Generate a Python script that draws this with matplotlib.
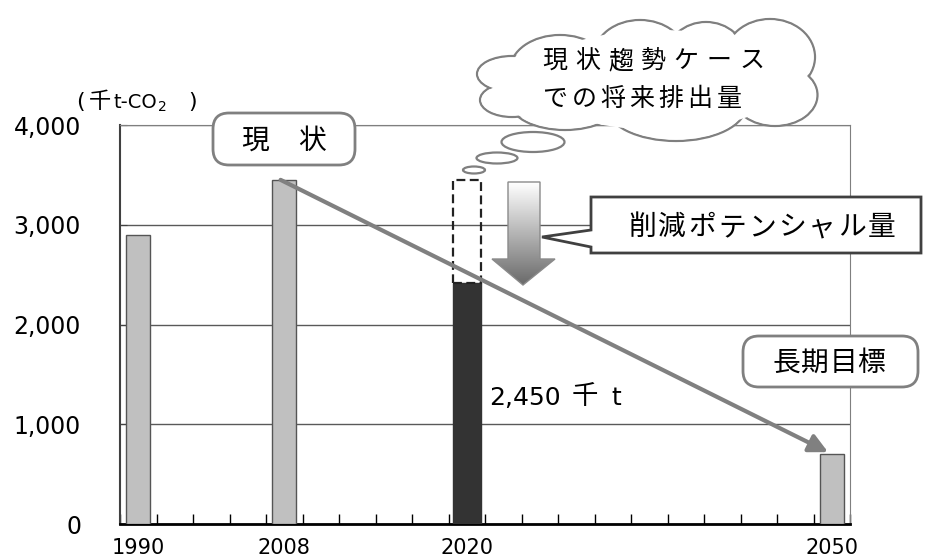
import matplotlib
matplotlib.use('Agg')
import matplotlib.pyplot as plt
import numpy as np
from matplotlib.patches import Rectangle, FancyBboxPatch, Ellipse, Polygon
from matplotlib.colors import LinearSegmentedColormap

plt.rcParams['font.family'] = ['Noto Sans CJK JP', 'DejaVu Sans']

# categories along the x axis (one slot per column, most are empty)
categories = ['1990', '', '', '', '2008', '', '', '', '', '2020',
              '', '', '', '', '', '', '', '', '', '2050']
bar_years = ['1990', '2008', '2020', '2050']
bar_values = [2900, 3450, 2420, 700]
bau_2020 = 3450          # 現状趨勢ケース (dashed box)
target_value = '2,450'
y_ticks = [0, 1000, 2000, 3000, 4000]


def spaced_text(ax, x0, y, s, step, **kw):
    """Draw each character at a fixed step (letter spaced text)."""
    for i, ch in enumerate(s):
        if ch.strip():
            ax.text(x0 + i * step, y, ch, ha='center', va='center', **kw)


fig = plt.figure(figsize=(9.25, 5.6), dpi=100)
ax = fig.add_axes([120 / 925, 1 - 524 / 560, 730 / 925, 399 / 560])

xs = [categories.index(y) for y in bar_years]
colors = ['#c0c0c0', '#c0c0c0', '#333333', '#c0c0c0']
widths = [0.65, 0.65, 0.76, 0.65]
edges = ['#555555', '#555555', '#333333', '#555555']
ax.bar(xs, bar_values, width=widths, color=colors, edgecolor=edges,
       linewidth=1, zorder=3)

# dashed box: business-as-usual level for 2020
i20 = categories.index('2020')
v20 = bar_values[bar_years.index('2020')]
ax.add_patch(Rectangle((i20 - 0.38, v20), 0.76, bau_2020 - v20, fill=False,
                       ls=(0, (4, 2)), lw=1.6, ec='#222222', zorder=4))

# trend arrow from current level to long-term target
i08 = categories.index('2008')
i50 = categories.index('2050')
ax.annotate('', xy=(i50 - 0.1, bar_values[3] + 20),
            xytext=(i08 - 0.1, bar_values[1]),
            arrowprops=dict(arrowstyle='-|>', lw=3, color='#808080',
                            mutation_scale=28, shrinkA=0, shrinkB=0),
            zorder=6)

ax.set_xlim(-0.5, len(categories) - 0.5)
ax.set_ylim(0, 4000)
ax.set_yticks(y_ticks)
ax.set_yticklabels([f'{v:,}' for v in y_ticks], fontsize=17,
                   family='DejaVu Sans')
ax.yaxis.grid(True, color='#595959', lw=1)
ax.set_axisbelow(True)
ax.tick_params(axis='y', direction='in', length=5, pad=28, color='#404040')

ax.set_xticks(xs)
ax.set_xticklabels(bar_years, fontsize=15, family='DejaVu Sans')
ax.set_xticks(np.arange(-0.5, len(categories), 1), minor=True)
ax.tick_params(axis='x', which='major', length=0, pad=10)
ax.tick_params(axis='x', which='minor', direction='in', length=7,
               width=1, color='#000000')

ax.spines['left'].set_color('#404040')
ax.spines['left'].set_linewidth(1.5)
ax.spines['bottom'].set_color('#000000')
ax.spines['bottom'].set_linewidth(2)
ax.spines['top'].set_color('#7f7f7f')
ax.spines['right'].set_color('#7f7f7f')

# overlay in pixel coordinates for the annotations
ov = fig.add_axes([0, 0, 1, 1], zorder=5)
ov.patch.set_visible(False)
ov.axis('off')

# unit label (千t-CO2)
ov.text(80, 102, '(', ha='center', va='center', fontsize=16,
        family='DejaVu Sans')
ov.text(100, 101, '千', ha='center', va='center', fontsize=16)
ov.text(113, 102, 't-CO', ha='left', va='center', fontsize=14,
        family='DejaVu Sans')
ov.text(162, 107, '2', ha='center', va='center', fontsize=10,
        family='DejaVu Sans')
ov.text(193, 102, ')', ha='center', va='center', fontsize=16,
        family='DejaVu Sans')

# rounded label boxes
for (x0, y0, w, h) in [(213, 113, 142, 52), (743, 336, 175, 51)]:
    ov.add_patch(FancyBboxPatch((x0, y0), w, h,
                                boxstyle='round,pad=0,rounding_size=16',
                                fc='white', ec='#808080', lw=2, zorder=3))
spaced_text(ov, 255, 141, '現状', 57, fontsize=20, zorder=4)
spaced_text(ov, 786, 363, '長期目標', 28.5, fontsize=20, zorder=4)

# cloud made of overlapping ellipses
cloud = [(560, 70, 100, 70), (640, 56, 92, 72), (706, 58, 80, 72),
         (770, 57, 90, 76), (775, 95, 85, 62), (676, 106, 140, 70),
         (565, 102, 110, 56), (512, 100, 64, 34), (512, 74, 70, 36)]
for (cx, cy, w, h) in cloud:
    ov.add_patch(Ellipse((cx, cy), w, h, fc='white', ec='#7f7f7f',
                         lw=1.6, zorder=3))
for (cx, cy, w, h) in cloud:
    ov.add_patch(Ellipse((cx, cy), w - 3, h - 3, fc='white', ec='none',
                         zorder=3.1))
ov.add_patch(Ellipse((660, 80), 260, 100, fc='white', ec='none', zorder=3.2))
for (cx, cy, w, h) in [(533, 142, 63, 20), (497, 158, 41, 11),
                       (474, 170, 22, 7)]:
    ov.add_patch(Ellipse((cx, cy), w, h, fc='white', ec='#7f7f7f',
                         lw=1.6, zorder=3))
spaced_text(ov, 555, 61, '現状趨勢ケース', 32.8, fontsize=18, zorder=4)
spaced_text(ov, 555, 99, 'での将来排出量', 29, fontsize=18, zorder=4)

# gradient down arrow
arrow_pts = [(508, 182), (540, 182), (540, 259), (555, 259), (523, 285),
             (492, 259), (508, 259)]
arrow = Polygon(arrow_pts, closed=True, fc='none', ec='#8a8a8a', lw=1,
                zorder=3)
ov.add_patch(arrow)
grad = np.linspace(0, 1, 200).reshape(-1, 1)
cmap = LinearSegmentedColormap.from_list('g', ['#ffffff', '#6a6a6a'])
im = ov.imshow(grad, cmap=cmap, extent=(492, 555, 285, 182), origin='upper',
               aspect='auto', zorder=2.5)
im.set_clip_path(arrow)

# callout box
callout = [(591, 197), (921, 197), (921, 253), (591, 253), (591, 247),
           (542, 237), (591, 230)]
ov.add_patch(Polygon(callout, closed=True, fc='white', ec='#404040', lw=2,
                     zorder=3))
spaced_text(ov, 642, 227, '削減ポテンシャル量', 30, fontsize=20, zorder=4)

# reduction target label
ov.text(489, 398, target_value, ha='left', va='center', fontsize=18,
        family='DejaVu Sans', zorder=4)
ov.text(585, 397, '千', ha='center', va='center', fontsize=19, zorder=4)
ov.text(616, 398, 't', ha='center', va='center', fontsize=18,
        family='DejaVu Sans', zorder=4)

ov.set_xlim(0, 925)
ov.set_ylim(560, 0)

fig.savefig('out.png', dpi=100)
